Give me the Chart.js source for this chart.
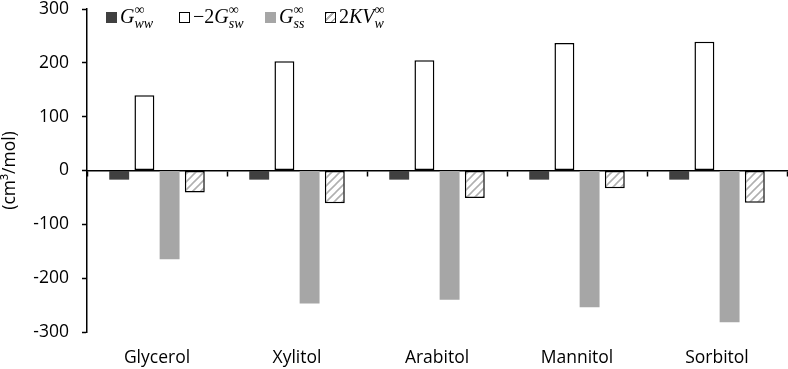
<!DOCTYPE html>
<html>
<head>
<meta charset="utf-8">
<script src="https://cdn.jsdelivr.net/npm/chart.js@4"></script>
<style>
  html, body { margin: 0; padding: 0; background: #fff; }
  #wrap { position: relative; width: 788px; height: 369px; }
  canvas { display: block; }
  .leg { position: absolute; top: 6px; font-family: "Liberation Serif", "DejaVu Serif", serif; font-size: 20px; color: #000; white-space: nowrap; line-height: 20px; }
  .leg i { font-style: italic; }
  .sw { display: inline-block; width: 11px; height: 11px; vertical-align: 0px; margin-right: 3px; box-sizing: border-box; }
  .ss { display: inline-block; position: relative; font-style: italic; font-size: 14px; }
  .sub { position: relative; top: 5px; }
  .sup { position: absolute; left: 0; top: -9px; font-style: normal; }
</style>
</head>
<body>
<div id="wrap">
  <canvas id="c" width="788" height="369"></canvas>
</div>
<script>
const categories = ["Glycerol", "Xylitol", "Arabitol", "Mannitol", "Sorbitol"];
const Gww = [-17, -17, -17, -17, -17];
const minus2Gsw = [140, 203, 205, 237, 239];
const Gss = [-165, -247, -240, -254, -282];
const twoKVw = [-41, -61, -51, -33, -60];
const yTicks = [300, 200, 100, 0, -100, -200, -300];

function hatch() {
  const c = document.createElement('canvas');
  c.width = 8; c.height = 8;
  const g = c.getContext('2d');
  g.fillStyle = '#fff'; g.fillRect(0, 0, 8, 8);
  g.strokeStyle = '#b0b0b0'; g.lineWidth = 1.6;
  g.beginPath();
  g.moveTo(0, 8); g.lineTo(8, 0);
  g.moveTo(-4, 4); g.lineTo(4, -4);
  g.moveTo(4, 12); g.lineTo(12, 4);
  g.stroke();
  return document.getElementById('c').getContext('2d').createPattern(c, 'repeat');
}
const hatchPat = hatch();

const FONT = { family: '"Open Sans", sans-serif', size: 17.5 };

new Chart(document.getElementById('c'), {
  type: 'bar',
  data: {
    labels: categories,
    datasets: [
      { label: 'Gww', data: Gww, backgroundColor: '#404040', borderWidth: 0 },
      { label: '-2Gsw', data: minus2Gsw, backgroundColor: '#ffffff', borderColor: '#000', borderWidth: 1.5, borderSkipped: false },
      { label: 'Gss', data: Gss, backgroundColor: '#a6a6a6', borderWidth: 0 },
      { label: '2KVw', data: twoKVw, backgroundColor: hatchPat, borderColor: '#000', borderWidth: 1.5, borderSkipped: false }
    ]
  },
  options: {
    responsive: false,
    animation: false,
    devicePixelRatio: 1,
    categoryPercentage: 0.72,
    barPercentage: 0.79,
    layout: { padding: { top: 9, right: 1, left: 0, bottom: 0 } },
    plugins: { legend: { display: false }, tooltip: { enabled: false } },
    scales: {
      x: {
        position: 'bottom',
        grid: { display: false, drawTicks: false },
        border: { display: false },
        ticks: { color: '#000', font: FONT, padding: 16, maxRotation: 0 },
        afterFit: s => { s.height = 37; s.paddingLeft = 0; s.paddingRight = 0; }
      },
      x2: {
        type: 'category',
        labels: categories,
        position: { y: 0 },
        offset: true,
        grid: { display: true, drawOnChartArea: false, drawTicks: true, tickLength: 5, color: '#000', tickColor: '#000', tickWidth: 1.5, offset: true },
        border: { display: true, color: '#000', width: 1.5 },
        ticks: { display: false },
        afterFit: s => { s.paddingLeft = 0; s.paddingRight = 0; }
      },
      y: {
        min: -300, max: 300,
        afterBuildTicks: s => { s.ticks = yTicks.map(v => ({ value: v })); },
        grid: { drawOnChartArea: false, drawTicks: true, tickLength: 5, color: '#000', tickColor: '#000', tickWidth: 1.5 },
        border: { display: true, color: '#000', width: 1.5 },
        ticks: { color: '#000', font: FONT, padding: 13 },
        title: { display: true, text: '(cm³/mol)', color: '#000', font: FONT, padding: { top: 0, bottom: 4 } },
        afterFit: s => { s.width = 87; s.paddingTop = 0; s.paddingBottom = 0; }
      }
    }
  }
});
</script>
<div class="leg" style="left:106px;"><span class="sw" style="background:#404040"></span><i>G</i><span class="ss"><span class="sub">ww</span><span class="sup">∞</span></span></div>
<div class="leg" style="left:179px;"><span class="sw" style="background:#fff;border:1.5px solid #000"></span>−2<i>G</i><span class="ss"><span class="sub">sw</span><span class="sup">∞</span></span></div>
<div class="leg" style="left:265px;"><span class="sw" style="background:#a6a6a6"></span><i>G</i><span class="ss"><span class="sub">ss</span><span class="sup">∞</span></span></div>
<div class="leg" style="left:325px;"><span class="sw" style="border:1.5px solid #000;background:repeating-linear-gradient(-45deg,#fff 0 2px,#b0b0b0 2px 3.5px,#fff 3.5px 5px)"></span>2<i>KV</i><span class="ss"><span class="sub">w</span><span class="sup">∞</span></span></div>
<script>
  document.querySelectorAll('.leg').forEach(el => document.getElementById('wrap').appendChild(el));
</script>
</body>
</html>
